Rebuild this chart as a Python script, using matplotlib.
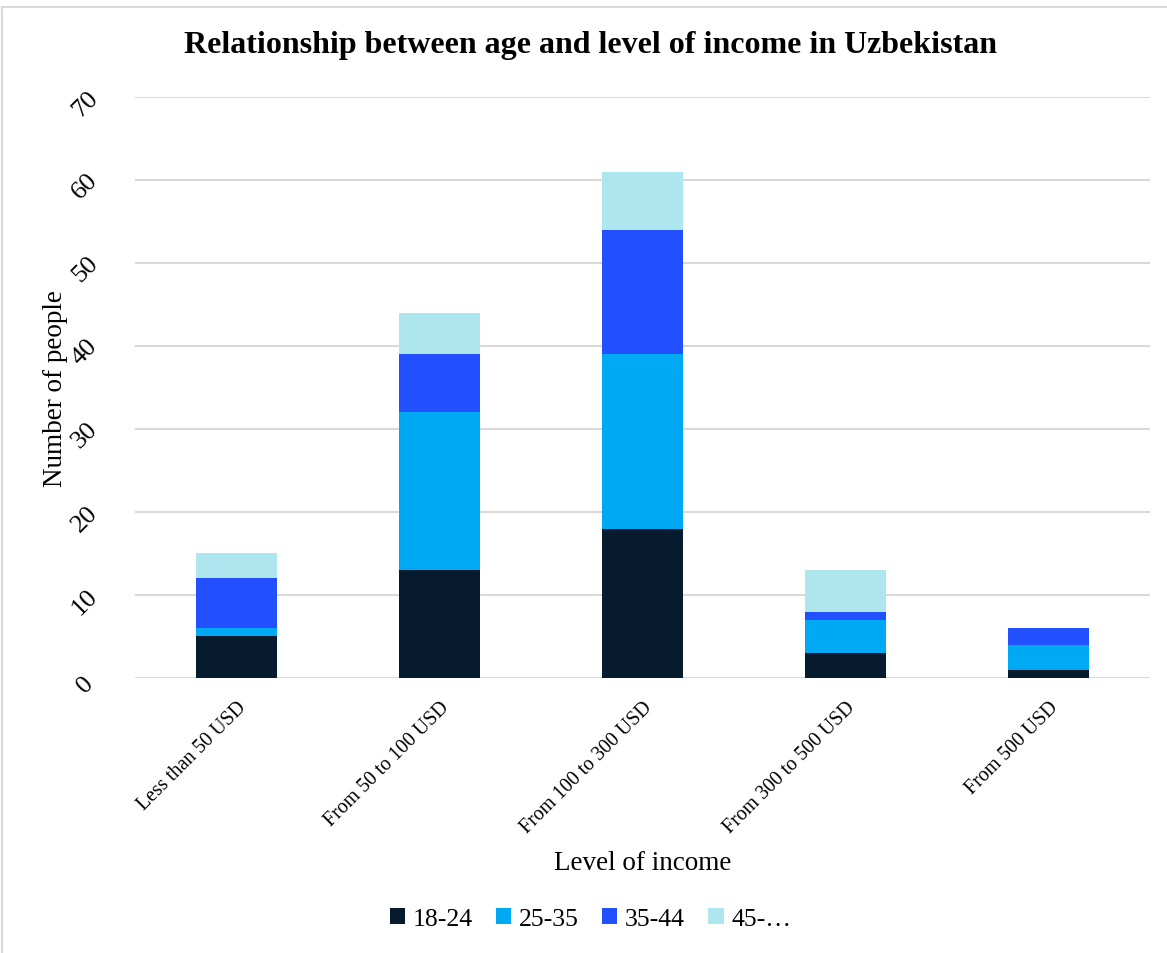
import matplotlib.pyplot as plt
import numpy as np
from matplotlib.patches import Rectangle
from matplotlib.transforms import ScaledTranslation

categories = ["Less than 50 USD", "From 50 to 100 USD", "From 100 to 300 USD",
              "From 300 to 500 USD", "From 500 USD"]
age_groups = ["18-24", "25-35", "35-44", "45-…"]
age_18_24 = [5, 13, 18, 3, 1]
age_25_35 = [1, 19, 21, 4, 3]
age_35_44 = [6, 7, 15, 1, 2]
age_45_plus = [3, 5, 7, 5, 0]
colors = ["#061C2E", "#00A9F4", "#2250FF", "#ADE6EF"]
y_ticks = [0, 10, 20, 30, 40, 50, 60, 70]

plt.rcParams['font.family'] = ['Liberation Serif', 'DejaVu Serif']

fig = plt.figure(figsize=(11.67, 9.54), dpi=100)
ax = fig.add_axes([0.1157, 0.2883, 0.8697, 0.6090])

# light frame around the chart area
fig.patches.append(Rectangle((2 / 1167, -0.05), 1.1, 1 - 8 / 954 + 0.05,
                             transform=fig.transFigure, fill=False,
                             edgecolor="#D9D9D9", linewidth=1.5))

x = np.arange(len(categories))
series = [age_18_24, age_25_35, age_35_44, age_45_plus]
bottom = np.zeros(len(categories))
for name, vals, c in zip(age_groups, series, colors):
    ax.bar(x, vals, width=0.40, bottom=bottom, color=c, label=name, zorder=3,
           linewidth=0)
    bottom += np.array(vals)

ax.set_xlim(-0.5, 4.5)
ax.set_ylim(0, 70)
ax.set_yticks(y_ticks)
ax.set_yticklabels([])
# slanted value labels beside each gridline
ytext_tr = ax.get_yaxis_transform() + ScaledTranslation(-50 / 100, -6 / 100,
                                                        fig.dpi_scale_trans)
for t in y_ticks:
    ax.text(0, t, str(t), transform=ytext_tr, rotation=45, fontsize=19,
            ha="center", va="center")
ax.grid(axis="y", color="#D9D9D9", linewidth=1.5, zorder=0)
for s in ax.spines.values():
    s.set_visible(False)
ax.tick_params(axis="both", length=0)
ax.set_xticks(x)
ax.set_xticklabels(categories, rotation=45, ha="right", rotation_mode="anchor",
                   fontsize=14.3)
ax.tick_params(axis="x", pad=14)

ax.set_ylabel("Number of people", fontsize=19.5)
ax.yaxis.set_label_coords(-0.066, 0.5)
ax.set_xlabel("Level of income", fontsize=19.5, labelpad=10)

fig.text(0.5056, 1 - 45 / 954, "Relationship between age and level of income in Uzbekistan",
         ha="center", va="center", fontsize=23, fontweight="bold")

fig.legend(loc="center", bbox_to_anchor=(0.506, 1 - 920 / 954), ncol=4, frameon=False,
           fontsize=18.5, handlelength=0.6, handleheight=0.6, handletextpad=0.3,
           columnspacing=0.9)

fig.savefig("out.png", dpi=100)
